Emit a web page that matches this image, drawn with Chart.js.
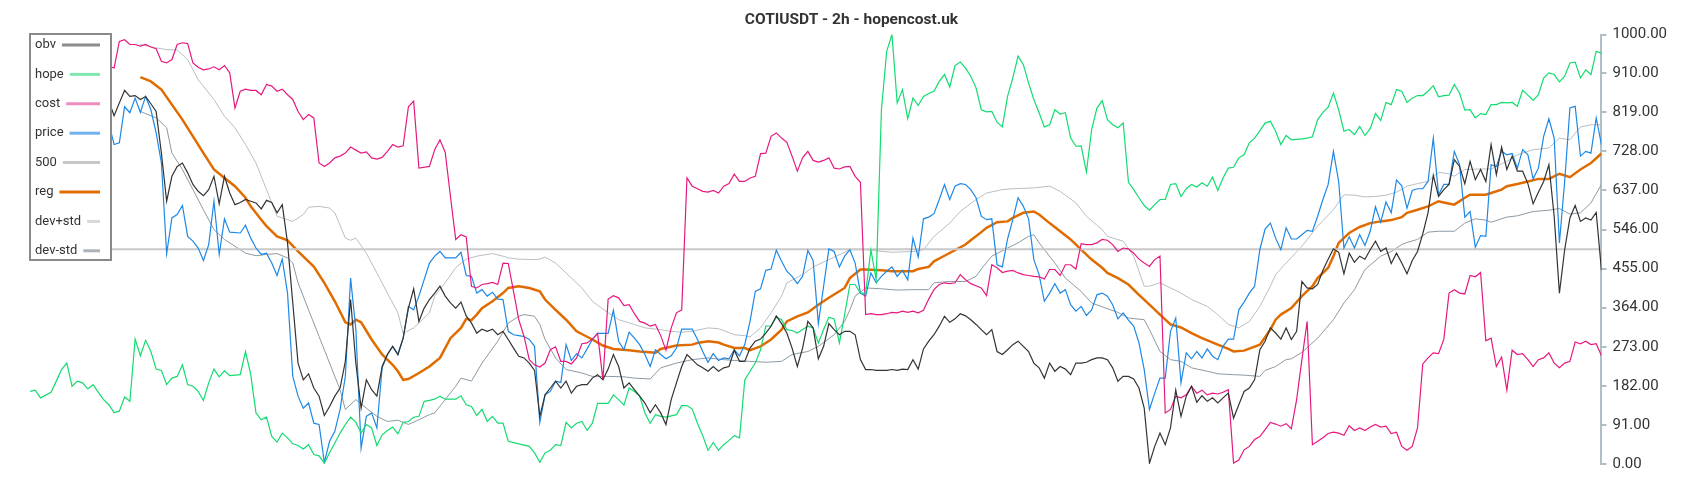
<!DOCTYPE html>
<html>
<head>
<meta charset="utf-8">
<script src="https://cdn.jsdelivr.net/npm/chart.js@4.4.1/dist/chart.umd.min.js"></script>
<style>
  body { margin: 0; background: #fff; }
</style>
</head>
<body>
<canvas id="myChart" width="1700" height="500"></canvas>
<script>
// [bar index, value]
const obv = [[15,845],[16,811],[17,841],[18,870],[19,856],[20,858],[21,849],[22,856],[23,839],[24,821],[25,724],[26,612],[27,670],[28,693],[29,701],[30,678],[31,651],[32,635],[33,625],[34,639],[35,670],[36,606],[37,670],[38,631],[39,604],[40,609],[41,616],[42,612],[43,608],[44,594],[45,614],[46,609],[47,585],[48,604],[49,515],[50,375],[51,235],[52,196],[53,210],[54,177],[55,158],[56,113],[57,134],[58,158],[59,177],[60,239],[61,383],[62,235],[63,130],[64,196],[65,173],[66,158],[67,227],[68,255],[69,274],[70,255],[71,293],[72,363],[73,408],[74,332],[75,363],[76,383],[77,398],[78,414],[79,391],[80,375],[81,363],[82,377],[83,345],[84,328],[85,305],[86,314],[87,309],[88,314],[89,301],[90,309],[91,290],[92,270],[93,251],[94,247],[95,235],[96,218],[97,111],[98,161],[99,177],[100,193],[101,177],[102,193],[103,165],[104,181],[105,185],[106,185],[107,200],[108,208],[109,196],[110,221],[111,255],[112,227],[113,177],[114,189],[115,173],[116,158],[117,142],[118,119],[119,138],[120,119],[121,92],[122,150],[123,189],[124,227],[125,255],[126,243],[127,231],[128,224],[129,216],[130,227],[131,216],[132,224],[133,227],[134,265],[135,239],[136,239],[137,270],[138,286],[139,291],[140,305],[141,321],[142,345],[143,327],[144,305],[145,270],[146,227],[147,270],[148,332],[149,317],[150,245],[151,274],[152,327],[153,313],[154,301],[155,309],[156,309],[157,301],[158,243],[159,220],[160,220],[161,218],[162,218],[163,218],[164,220],[165,218],[166,221],[167,220],[168,243],[169,221],[170,268],[171,286],[172,301],[173,321],[174,344],[175,330],[176,338],[177,350],[178,345],[179,336],[180,325],[181,313],[182,301],[183,313],[184,262],[185,255],[186,266],[187,278],[188,286],[189,274],[190,262],[191,235],[192,224],[193,200],[194,235],[195,216],[196,227],[197,221],[198,208],[199,235],[200,235],[201,237],[202,243],[203,247],[204,247],[205,243],[206,224],[207,193],[208,204],[209,204],[210,198],[211,177],[212,130],[213,2],[214,41],[215,72],[216,45],[217,84],[218,172],[219,111],[220,158],[221,181],[222,144],[223,159],[224,146],[225,154],[226,142],[227,154],[228,165],[229,107],[230,138],[231,169],[232,177],[233,196],[234,266],[235,286],[236,317],[237,305],[238,291],[239,317],[240,290],[241,309],[242,425],[243,410],[244,408],[245,418],[246,451],[247,477],[248,501],[249,493],[250,443],[251,491],[252,470],[253,484],[254,477],[255,499],[256,519],[257,495],[258,503],[259,467],[260,491],[261,468],[262,443],[263,474],[264,495],[265,536],[266,585],[267,672],[268,623],[269,639],[270,651],[271,709],[272,693],[273,653],[274,705],[275,662],[276,686],[277,658],[278,744],[279,674],[280,738],[281,686],[282,717],[283,682],[284,682],[285,653],[286,606],[287,633],[288,658],[289,697],[290,577],[291,398],[292,499],[293,573],[294,602],[295,565],[296,573],[297,568],[298,586],[299,451]];

const hope = [[0,169],[1,172],[2,154],[4,167],[5,193],[6,220],[7,235],[8,181],[9,193],[10,189],[11,175],[12,185],[13,167],[14,150],[15,138],[16,120],[17,123],[18,156],[19,146],[20,291],[21,252],[22,288],[23,262],[24,221],[25,218],[26,185],[27,200],[28,204],[29,231],[30,185],[31,181],[32,169],[33,148],[34,189],[35,221],[36,203],[37,217],[38,206],[40,208],[41,262],[42,208],[43,119],[44,103],[45,109],[46,64],[47,51],[48,72],[49,61],[50,47],[51,43],[52,35],[53,45],[54,22],[55,19],[56,2],[57,26],[58,49],[59,72],[60,92],[61,109],[62,97],[63,72],[64,92],[65,84],[66,43],[67,68],[68,78],[69,86],[70,70],[71,97],[72,99],[73,109],[74,111],[75,146],[76,148],[77,151],[78,158],[79,151],[81,151],[82,159],[83,138],[84,134],[85,113],[86,127],[87,99],[88,111],[89,95],[90,95],[91,53],[93,47],[95,41],[96,26],[97,4],[98,26],[99,32],[100,45],[101,43],[102,97],[103,84],[104,95],[105,99],[106,78],[107,95],[108,141],[110,141],[111,161],[112,150],[113,137],[114,177],[115,169],[116,158],[117,119],[118,95],[119,115],[120,111],[121,109],[123,115],[124,136],[125,136],[126,128],[127,95],[128,66],[129,32],[130,50],[131,32],[132,45],[133,55],[134,66],[135,61],[136,196],[137,216],[138,235],[139,266],[140,321],[141,322],[142,342],[143,336],[144,313],[145,311],[146,305],[147,313],[148,321],[149,317],[150,282],[151,313],[152,342],[153,338],[154,282],[155,348],[156,418],[157,418],[158,398],[159,398],[160,499],[161,429],[162,825],[163,961],[164,1000],[165,841],[166,872],[167,804],[168,852],[169,835],[170,856],[171,863],[172,868],[173,891],[174,907],[175,878],[176,928],[177,936],[178,922],[179,903],[180,876],[181,825],[182,820],[183,821],[184,796],[185,785],[186,856],[187,899],[188,950],[189,930],[190,887],[191,849],[192,818],[193,785],[194,790],[195,825],[196,815],[197,818],[198,759],[199,740],[200,741],[201,680],[202,779],[203,829],[204,846],[205,802],[206,790],[207,783],[208,794],[209,656],[210,639],[211,620],[212,602],[213,591],[214,604],[215,616],[216,616],[217,651],[218,653],[219,623],[220,641],[221,651],[222,645],[223,655],[224,647],[225,668],[226,637],[227,666],[228,689],[229,691],[230,713],[231,720],[232,748],[233,759],[234,776],[235,794],[236,798],[237,775],[238,744],[239,765],[240,755],[242,757],[243,759],[244,762],[245,802],[246,819],[247,831],[248,864],[249,825],[250,775],[251,779],[252,767],[253,786],[254,765],[255,781],[256,816],[257,800],[258,842],[259,837],[260,872],[261,868],[262,842],[263,852],[264,858],[265,858],[266,868],[267,881],[268,855],[269,858],[270,859],[271,884],[272,864],[273,824],[274,825],[275,806],[276,816],[277,814],[278,837],[279,837],[280,842],[281,841],[282,842],[283,833],[284,870],[285,859],[286,847],[287,860],[288,899],[289,911],[290,907],[291,890],[292,903],[293,934],[294,936],[295,899],[296,918],[297,907],[298,961],[299,957]];

const cost = [[15,926],[16,922],[17,984],[18,988],[19,977],[20,977],[21,973],[22,977],[23,971],[24,967],[25,938],[26,934],[27,942],[28,977],[29,981],[30,979],[31,934],[32,924],[33,918],[34,920],[35,925],[36,918],[37,928],[38,911],[39,829],[40,868],[41,873],[42,870],[43,870],[44,860],[45,884],[46,880],[47,868],[48,873],[49,860],[50,849],[51,821],[52,802],[53,814],[54,806],[55,701],[56,693],[57,701],[58,713],[59,717],[60,724],[61,738],[62,731],[63,724],[64,727],[65,713],[66,710],[67,714],[68,728],[69,744],[70,738],[71,741],[72,832],[73,845],[74,689],[76,693],[77,732],[78,755],[79,726],[80,623],[81,523],[82,534],[83,529],[84,414],[85,410],[86,418],[87,420],[88,423],[89,418],[90,468],[91,467],[92,402],[93,336],[94,297],[95,243],[96,231],[97,226],[98,235],[99,266],[100,273],[101,239],[102,239],[103,233],[104,247],[105,280],[106,282],[107,291],[108,304],[109,196],[110,384],[111,392],[112,387],[113,369],[114,371],[115,350],[116,332],[117,328],[118,321],[119,325],[120,299],[121,265],[122,317],[123,352],[124,359],[125,666],[126,647],[127,641],[128,635],[129,633],[130,637],[131,631],[132,647],[133,653],[134,675],[135,658],[136,658],[137,666],[138,670],[139,723],[140,724],[141,763],[142,771],[143,759],[144,749],[145,717],[146,682],[147,713],[148,728],[149,707],[150,703],[151,707],[152,713],[153,689],[154,687],[155,692],[156,693],[157,670],[158,656],[159,348],[160,350],[161,348],[162,348],[163,350],[164,353],[165,352],[166,356],[167,353],[168,356],[169,352],[170,358],[171,384],[172,406],[173,418],[174,422],[175,420],[176,422],[177,441],[178,429],[179,420],[180,415],[181,410],[182,392],[183,464],[184,457],[185,446],[186,449],[187,451],[188,445],[189,441],[190,439],[191,437],[192,436],[193,431],[194,453],[195,453],[196,439],[197,464],[198,464],[199,454],[200,513],[201,511],[202,511],[203,515],[204,523],[205,521],[206,511],[207,495],[208,503],[209,501],[210,491],[211,477],[212,468],[213,460],[214,476],[215,484],[216,119],[217,127],[218,158],[219,154],[220,161],[221,181],[222,165],[223,172],[224,161],[225,165],[226,163],[227,167],[228,173],[229,2],[230,9],[231,33],[232,41],[233,57],[234,64],[235,80],[236,97],[237,93],[238,88],[239,94],[240,82],[241,150],[242,243],[243,332],[244,45],[245,53],[246,61],[247,71],[248,74],[249,72],[250,67],[251,89],[252,78],[253,84],[254,78],[255,86],[256,92],[257,86],[258,88],[259,71],[260,74],[261,41],[262,32],[263,41],[264,84],[265,233],[266,247],[267,259],[268,257],[269,290],[270,398],[271,406],[272,398],[273,396],[274,439],[275,436],[276,446],[277,287],[278,293],[279,227],[280,249],[281,172],[282,265],[283,255],[284,257],[285,243],[286,227],[287,243],[288,247],[289,259],[290,235],[291,224],[292,235],[293,239],[294,284],[295,280],[296,286],[297,278],[298,280],[299,252]];

const price = [[15,794],[16,744],[17,748],[18,832],[19,818],[20,852],[21,819],[22,856],[23,825],[24,771],[25,701],[26,490],[27,573],[28,581],[29,602],[30,530],[31,519],[32,503],[33,474],[34,511],[35,612],[36,488],[37,571],[38,540],[40,538],[41,556],[42,526],[43,503],[44,488],[45,491],[46,468],[47,439],[48,477],[49,398],[50,204],[51,158],[52,130],[53,142],[54,95],[55,92],[56,4],[57,53],[58,76],[59,127],[60,204],[61,433],[62,313],[63,37],[64,111],[65,119],[66,84],[67,224],[68,255],[69,274],[70,255],[71,293],[72,367],[73,359],[74,391],[76,468],[77,484],[78,495],[79,480],[81,480],[82,493],[83,439],[84,437],[85,398],[86,406],[87,391],[88,400],[89,384],[90,383],[91,309],[92,301],[93,299],[94,297],[95,290],[96,274],[97,97],[98,161],[99,169],[100,193],[101,190],[102,278],[103,241],[104,257],[105,247],[106,268],[107,290],[108,304],[110,304],[111,358],[112,286],[113,266],[114,307],[115,293],[116,278],[117,255],[118,227],[119,266],[120,255],[121,245],[122,252],[123,270],[124,314],[125,314],[126,314],[127,290],[128,262],[129,237],[130,257],[131,241],[132,247],[133,245],[134,266],[135,252],[136,278],[137,332],[138,402],[139,408],[140,451],[141,454],[142,498],[143,472],[144,449],[145,437],[146,420],[147,437],[148,497],[149,474],[150,327],[151,414],[152,501],[153,495],[154,459],[155,484],[156,499],[157,468],[158,398],[159,391],[160,445],[161,422],[162,437],[163,449],[164,459],[165,437],[166,451],[167,429],[168,526],[169,482],[170,571],[171,575],[172,583],[173,616],[174,651],[175,616],[176,647],[177,653],[178,651],[179,639],[180,620],[181,577],[182,569],[183,571],[184,464],[185,459],[186,524],[187,569],[188,620],[189,600],[190,571],[191,476],[192,441],[193,379],[194,398],[195,420],[196,398],[197,406],[198,371],[199,356],[200,367],[201,346],[202,359],[203,394],[204,398],[205,391],[206,371],[207,338],[208,352],[209,335],[210,321],[211,282],[212,220],[213,127],[214,165],[215,200],[216,200],[217,309],[218,340],[219,189],[220,259],[221,245],[222,262],[223,247],[224,268],[225,251],[226,243],[227,274],[228,291],[229,291],[230,359],[231,377],[232,398],[233,414],[234,499],[235,547],[236,561],[237,526],[238,499],[239,550],[240,524],[241,524],[242,534],[243,544],[244,542],[245,577],[246,616],[247,651],[248,728],[249,658],[250,503],[251,529],[252,503],[253,534],[254,509],[255,542],[256,599],[257,563],[258,610],[259,585],[260,661],[261,648],[262,596],[263,637],[264,641],[265,641],[266,658],[267,759],[268,627],[269,651],[270,651],[271,728],[272,697],[273,575],[274,588],[275,505],[276,532],[277,530],[278,697],[279,693],[280,728],[281,720],[282,723],[283,689],[284,732],[285,720],[286,664],[287,689],[288,763],[289,804],[290,759],[291,515],[292,658],[293,829],[294,833],[295,717],[296,728],[297,724],[298,806],[299,744]];

const level500 = [[0,500],[299,500]];

const reg = [[21,901],[23,891],[25,872],[27,837],[29,802],[31,763],[33,724],[35,686],[37,666],[39,647],[41,620],[42,600],[44,569],[45,554],[47,530],[49,521],[51,495],[54,460],[56,422],[58,379],[60,330],[61,325],[62,336],[63,330],[65,290],[67,255],[69,231],[70,216],[71,196],[72,198],[74,212],[76,227],[78,247],[79,270],[80,293],[82,317],[83,338],[84,335],[85,348],[86,363],[88,379],[90,398],[91,410],[93,414],[95,410],[97,402],[98,383],[100,359],[102,336],[104,309],[107,290],[109,276],[111,268],[114,265],[116,262],[119,259],[120,268],[123,276],[126,278],[127,282],[129,286],[131,283],[132,278],[134,270],[136,270],[137,265],[139,274],[141,290],[143,313],[144,332],[146,344],[148,353],[150,371],[152,387],[155,410],[156,433],[158,453],[159,453],[162,451],[164,449],[168,449],[169,454],[171,459],[172,472],[174,485],[176,498],[178,511],[179,521],[181,540],[182,550],[184,563],[186,565],[187,573],[189,585],[191,588],[192,581],[194,561],[196,542],[198,523],[200,499],[202,476],[204,457],[205,445],[207,433],[209,418],[211,394],[213,371],[215,348],[217,325],[219,318],[221,305],[223,293],[226,278],[228,268],[229,262],[231,264],[234,278],[236,313],[237,336],[238,348],[240,363],[242,391],[244,414],[245,433],[247,457],[248,484],[249,515],[251,538],[253,552],[255,561],[257,565],[259,568],[261,575],[262,585],[264,592],[266,600],[268,612],[269,609],[271,604],[273,620],[274,627],[277,627],[278,631],[280,639],[281,647],[283,652],[285,658],[287,664],[289,664],[291,676],[293,668],[295,686],[297,701],[299,723]];

const devUp = [[21,977],[24,969],[26,965],[28,964],[30,942],[32,895],[35,849],[37,810],[39,783],[41,744],[43,701],[45,639],[47,577],[49,569],[50,565],[52,581],[53,598],[55,600],[57,596],[58,585],[60,526],[61,521],[62,526],[64,491],[66,445],[68,398],[70,352],[71,304],[73,317],[76,352],[77,391],[79,422],[81,457],[83,477],[85,484],[88,490],[90,484],[91,480],[93,477],[96,476],[97,477],[98,482],[100,468],[102,445],[105,410],[107,379],[110,352],[112,336],[115,325],[117,317],[120,313],[122,309],[124,307],[126,309],[129,317],[131,315],[132,311],[134,301],[136,299],[137,296],[139,317],[141,352],[143,391],[144,422],[147,441],[149,459],[152,476],[155,493],[156,499],[159,499],[164,493],[168,495],[170,499],[172,530],[175,561],[177,588],[180,616],[182,631],[185,639],[187,641],[191,643],[194,647],[196,635],[199,608],[201,577],[204,546],[205,530],[208,519],[210,484],[212,414],[213,414],[215,422],[217,410],[219,398],[221,383],[224,367],[226,348],[228,325],[230,317],[232,332],[234,367],[236,414],[237,441],[239,468],[242,507],[245,554],[248,592],[250,627],[252,626],[254,622],[256,623],[258,626],[260,633],[262,647],[264,653],[266,658],[268,679],[270,676],[271,670],[273,686],[276,687],[278,687],[281,705],[283,720],[286,732],[289,736],[291,759],[293,755],[295,785],[297,790],[299,790]];

const devDown = [[21,821],[24,806],[26,783],[27,724],[29,686],[31,639],[33,592],[35,546],[37,523],[40,499],[41,491],[43,485],[45,488],[47,490],[49,480],[50,468],[51,422],[53,359],[55,297],[57,235],[59,173],[60,127],[62,150],[64,130],[66,111],[68,99],[70,102],[72,92],[74,103],[76,115],[77,119],[79,150],[81,181],[82,200],[84,193],[86,235],[89,286],[91,328],[93,344],[94,348],[96,344],[97,325],[98,290],[100,247],[102,220],[105,212],[107,204],[110,204],[113,203],[115,200],[118,198],[120,224],[123,235],[126,243],[129,247],[132,243],[134,241],[137,239],[140,237],[143,239],[145,255],[148,262],[150,274],[153,301],[155,332],[156,359],[157,391],[159,410],[162,408],[165,405],[168,406],[171,406],[172,422],[175,425],[178,425],[180,437],[181,454],[183,484],[186,503],[188,515],[190,530],[191,534],[192,515],[195,468],[197,433],[200,402],[202,375],[204,366],[207,353],[209,340],[212,336],[213,313],[215,262],[217,243],[219,239],[221,224],[224,216],[226,210],[229,208],[231,207],[234,204],[235,218],[237,227],[239,243],[240,245],[242,260],[245,293],[248,336],[250,375],[252,406],[254,453],[257,484],[259,495],[261,511],[262,516],[264,523],[266,540],[268,542],[271,542],[273,561],[275,571],[277,568],[278,563],[281,575],[283,578],[286,588],[289,591],[291,595],[293,582],[295,585],[297,608],[299,651]];

const yTicks = [0, 91, 182, 273, 364, 455, 546, 637, 728, 819, 910, 1000];

const toXY = arr => arr.map(([x, y]) => ({ x: x, y: y }));

// legend drawn over the plot, top left, with a white box
const legendBox = {
    id: 'legendBox',
    afterDatasetsDraw(chart) {
        const ctx = chart.ctx;
        const bx = 30, by = 34, bw = 81, bh = 226;
        ctx.save();
        ctx.fillStyle = '#ffffff';
        ctx.fillRect(bx, by, bw, bh);
        ctx.strokeStyle = '#8a8a8a';
        ctx.lineWidth = 2;
        ctx.strokeRect(bx, by, bw, bh);
        ctx.font = '13px Roboto';
        ctx.textBaseline = 'middle';
        chart.data.datasets.forEach((ds, k) => {
            const ty = by + 11 + k * 29.4;
            ctx.fillStyle = '#333333';
            ctx.fillText(ds.label, bx + 5, ty);
            const tw = ctx.measureText(ds.label).width;
            ctx.strokeStyle = ds.legendColor;
            ctx.lineWidth = 3;
            ctx.beginPath();
            ctx.moveTo(bx + 5 + tw + 6, ty);
            ctx.lineTo(bx + 70, ty);
            ctx.stroke();
        });
        ctx.restore();
    }
};

Chart.defaults.font.family = 'Roboto';

new Chart(document.getElementById('myChart'), {
    type: 'line',
    data: {
        datasets: [
            { label: 'obv', data: toXY(obv), borderColor: '#333333', legendColor: '#8c8c8c', borderWidth: 1.2 },
            { label: 'hope', data: toXY(hope), borderColor: '#12dc70', legendColor: '#80e8ae', borderWidth: 1.2 },
            { label: 'cost', data: toXY(cost), borderColor: '#e6197f', legendColor: '#f08cc0', borderWidth: 1.2 },
            { label: 'price', data: toXY(price), borderColor: '#1e88e5', legendColor: '#70b2ee', borderWidth: 1.2 },
            { label: '500', data: toXY(level500), borderColor: '#c8c8c8', legendColor: '#c8c8c8', borderWidth: 2 },
            { label: 'reg', data: toXY(reg), borderColor: '#e06c00', legendColor: '#e06c00', borderWidth: 2.5 },
            { label: 'dev+std', data: toXY(devUp), borderColor: '#b8bfc4', legendColor: '#d5d9dc', borderWidth: 1 },
            { label: 'dev-std', data: toXY(devDown), borderColor: '#8d9aa3', legendColor: '#a9b3b9', borderWidth: 1 }
        ]
    },
    options: {
        responsive: false,
        animation: false,
        layout: { padding: { left: 30, right: 27, top: 0, bottom: 36 } },
        elements: { point: { radius: 0 }, line: { tension: 0 } },
        plugins: {
            legend: { display: false },
            tooltip: { enabled: false },
            title: {
                display: true,
                text: 'COTIUSDT - 2h - hopencost.uk',
                color: '#333333',
                font: { size: 15.5, weight: 'bold' },
                padding: { top: 11, bottom: 5 }
            }
        },
        scales: {
            x: { type: 'linear', display: false, min: 0, max: 299 },
            y: {
                position: 'right',
                min: 0,
                max: 1000,
                afterBuildTicks: scale => { scale.ticks = yTicks.map(v => ({ value: v })); },
                ticks: { callback: v => v.toFixed(2), color: '#333333', font: { size: 15 }, padding: 6 },
                grid: { drawOnChartArea: false, color: '#b0bec5', lineWidth: 2, tickLength: 5 },
                border: { color: '#b0bec5', width: 2 }
            }
        }
    },
    plugins: [legendBox]
});
</script>
</body>
</html>
